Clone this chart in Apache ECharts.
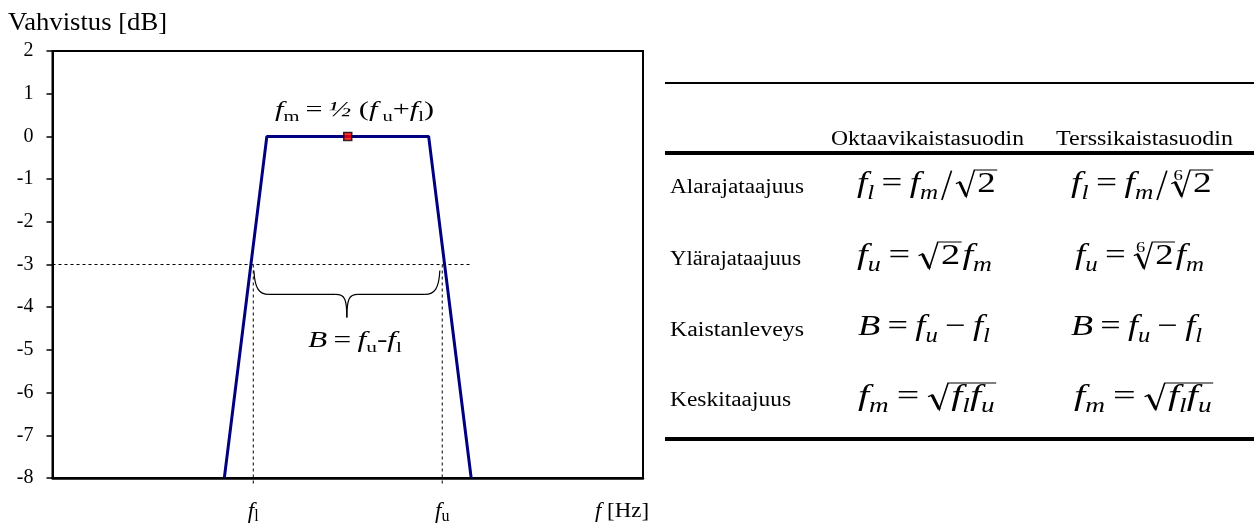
<!DOCTYPE html>
<html>
<head>
<meta charset="utf-8">
<script src="https://cdn.jsdelivr.net/npm/echarts@6/dist/echarts.min.js"></script>
<style>
  html, body { margin: 0; padding: 0; background: #fff; }
  #chart { width: 1254px; height: 525px; }
</style>
</head>
<body>
<div id="chart"></div>
<script>
// 公式记号
const I = t => ({ t: t, it: 1 });            // 斜体
const U = t => ({ t: t });                   // 正体
const SI = t => ({ t: t, it: 1, sub: 1 });   // 斜体下标
const SU = t => ({ t: t, sub: 1 });          // 正体下标
const OP = t => ({ t: t, op: 1 });           // 运算符
const SLASH = { slash: 1 };
const ROOT = (body, n) => ({ root: body, n: n });

// 通带曲线（x 为任意频率刻度 0..100）
const bandX = [29.1, 36.3, 63.7, 70.9];
const bandGain = [-8, 0, 0, -8];
const centerX = 50;
const centerGain = 0;
const cutoffX = [34, 66];
const cutoffSub = ['l', 'u'];
const cutoffGain = -3;
const cutoffLineEnd = 71;
const braceX = [34.1, 65.6];
const braceY = [-3.14, -3.7, -4.24];
const gainMin = -8, gainMax = 2, gainStep = 1;

// 表格内容
const colHeaders = ['Oktaavikaistasuodin', 'Terssikaistasuodin'];
const rowLabels = ['Alarajataajuus', 'Ylärajataajuus', 'Kaistanleveys', 'Keskitaajuus'];
const formulas = [
  [[I('f'), SI('l'), OP('='), I('f'), SI('m'), SLASH, ROOT([U('2')])],
   [I('f'), SI('l'), OP('='), I('f'), SI('m'), SLASH, ROOT([U('2')], '6')]],
  [[I('f'), SI('u'), OP('='), ROOT([U('2')]), I('f'), SI('m')],
   [I('f'), SI('u'), OP('='), ROOT([U('2')], '6'), I('f'), SI('m')]],
  [[I('B'), OP('='), I('f'), SI('u'), OP('\u2212'), I('f'), SI('l')],
   [I('B'), OP('='), I('f'), SI('u'), OP('\u2212'), I('f'), SI('l')]],
  [[I('f'), SI('m'), OP('='), ROOT([I('f'), SI('l'), I('f'), SI('u')])],
   [I('f'), SI('m'), OP('='), ROOT([I('f'), SI('l'), I('f'), SI('u')])]]
];
const centerNote = [I('f'), SU('m'), OP('='), I('\u00bd'), U(' ('), I('f'), SU(' u'), U('+'), I('f'), SU('l'), U(')')];
const bandNote = [I('B'), OP('='), I('f'), SU('u'), U('-'), I('f'), SU('l')];

const FONT = '"Liberation Serif", "Times New Roman", serif';
const ctx = document.createElement('canvas').getContext('2d');

function textW(t, size, it) {
  ctx.font = (it ? 'italic ' : '') + size + 'px ' + FONT;
  return ctx.measureText(t).width;
}

function txt(t, x, yb, size, it) {
  return {
    type: 'text', x: x, y: yb - 0.335 * size, silent: true,
    style: { text: t, font: (it ? 'italic ' : '') + size + 'px ' + FONT, fill: '#000', align: 'left', verticalAlign: 'middle' }
  };
}

function seg(x1, y1, x2, y2, w) {
  return { type: 'line', silent: true, shape: { x1: x1, y1: y1, x2: x2, y2: y2 }, style: { stroke: '#000', lineWidth: w } };
}

// 按记号排版一行公式
function build(tokens, s, x0, yb) {
  const els = [];
  let x = x0;
  tokens.forEach(tk => {
    if (tk.slash) {
      els.push(seg(x + 0.36 * s, yb - 0.78 * s, x + 0.1 * s, yb + 0.2 * s, 0.045 * s));
      x += 0.46 * s;
    } else if (tk.root) {
      const rw = 0.6 * s;
      const inner = build(tk.root, s, x + rw, yb);
      const top = yb - 0.8 * s;
      els.push({
        type: 'polyline', silent: true,
        shape: { points: [[x + 0.02 * s, yb - 0.34 * s], [x + 0.12 * s, yb - 0.4 * s], [x + 0.3 * s, yb + 0.08 * s], [x + 0.52 * s, top], [inner.x + 0.04 * s, top]] },
        style: { stroke: '#000', fill: null, lineWidth: 0.04 * s }
      });
      els.push(seg(x + 0.12 * s, yb - 0.4 * s, x + 0.3 * s, yb + 0.08 * s, 0.08 * s));
      if (tk.n) els.push(txt(tk.n, x + 0.08 * s, yb - 0.44 * s, 0.5 * s, false));
      els.push(...inner.els);
      x = inner.x + 0.06 * s;
    } else {
      const size = tk.sub ? 0.68 * s : s;
      const pad = tk.op ? 0.2 * s : 0;
      x += pad;
      els.push(txt(tk.t, x, tk.sub ? yb + 0.2 * s : yb, size, tk.it));
      x += textW(tk.t, size, tk.it) + pad;
    }
  });
  return { els: els, x: x };
}

function group(tokens, s, left, yb, width, scale) {
  const r = build(tokens, s, 0, yb);
  const sc = width ? width / r.x : (scale || 1);
  return { type: 'group', x: left, y: 0, scaleX: sc, children: r.els };
}

// 表格与注释
const graphics = [];
graphics.push(group([U('Vahvistus [dB]')], 25, 8, 32, 159));
graphics.push(group(centerNote, 22, 275, 118, 159));
graphics.push(group(bandNote, 23, 308, 349, 94));
graphics.push(group([I('f'), U(' [Hz]')], 21, 595, 519, 54));

const tableLeft = 665, tableRight = 1254;
graphics.push(seg(tableLeft, 83, tableRight, 83, 2));
graphics.push(seg(tableLeft, 153, tableRight, 153, 4));
graphics.push(seg(tableLeft, 439, tableRight, 439, 4));

const headerX = [831, 1056];
const headerW = [193, 177];
colHeaders.forEach((h, j) => graphics.push(group([U(h)], 20, headerX[j], 146, headerW[j])));

const rowBase = [194, 266, 337, 407];
const labelW = [134, 131, 134, 121];
const formulaX = [[857, 1071], [857, 1075], [858, 1071], [858, 1074]];
const formulaW = [[141, 143], [135, 129], [132, 131], [139, 140]];
rowLabels.forEach((lab, i) => {
  graphics.push(group([U(lab)], 20, 670, rowBase[i], labelW[i]));
  formulas[i].forEach((f, j) => graphics.push(group(f, 30, formulaX[i][j], rowBase[i], formulaW[i][j])));
});

const chart = echarts.init(document.getElementById('chart'));
const dashed = { color: '#000', width: 1, type: [3, 3] };

const option = {
  animation: false,
  grid: { left: 52.5, right: 611, top: 51, bottom: 47, show: true, borderColor: '#000', borderWidth: 2, backgroundColor: 'transparent' },
  xAxis: {
    type: 'value', min: 0, max: 100,
    axisLine: { show: true, onZero: false, lineStyle: { color: '#000', width: 2.5 } },
    axisTick: { show: false },
    splitLine: { show: false },
    axisLabel: {
      show: true, customValues: cutoffX, margin: 21,
      formatter: v => '{f|f}{s|' + (cutoffSub[cutoffX.indexOf(v)] || '') + '}',
      rich: {
        f: { fontFamily: FONT, fontStyle: 'italic', fontSize: 23, lineHeight: 26, color: '#000' },
        s: { fontFamily: FONT, fontSize: 16, lineHeight: 14, verticalAlign: 'bottom', color: '#000' }
      }
    }
  },
  yAxis: {
    type: 'value', min: gainMin, max: gainMax, interval: gainStep,
    axisLine: { show: true, onZero: false, lineStyle: { color: '#000', width: 2 } },
    axisTick: { show: true, length: 6, lineStyle: { color: '#000', width: 1.5 } },
    splitLine: { show: false },
    axisLabel: { color: '#000', fontFamily: FONT, fontSize: 20, margin: 19 }
  },
  series: [
    {
      type: 'line', data: [[0, cutoffGain], [cutoffLineEnd, cutoffGain]],
      symbol: 'none', lineStyle: dashed, silent: true, z: 1
    },
    ...cutoffX.map(x => ({
      type: 'line', data: [[x, cutoffGain], [x, gainMin - 0.15]],
      symbol: 'none', lineStyle: dashed, silent: true, clip: false, z: 1
    })),
    {
      type: 'custom', silent: true, z: 2,
      data: [[braceX[0], braceX[1], braceY[0], braceY[1], braceY[2]]],
      encode: { x: [0, 1], y: [2, 3, 4] },
      renderItem: (params, api) => {
        const l = api.coord([api.value(0), api.value(2)]);
        const r = api.coord([api.value(1), api.value(2)]);
        const ym = api.coord([api.value(0), api.value(3)])[1];
        const yt = api.coord([api.value(0), api.value(4)])[1];
        const cx = (l[0] + r[0]) / 2;
        const st = { stroke: '#000', fill: null, lineWidth: 1.2 };
        const bz = (x1, y1, c1x, c1y, c2x, c2y, x2, y2) => ({
          type: 'bezierCurve', shape: { x1: x1, y1: y1, cpx1: c1x, cpy1: c1y, cpx2: c2x, cpy2: c2y, x2: x2, y2: y2 }, style: st
        });
        return {
          type: 'group',
          children: [
            bz(l[0], l[1], l[0] + 1, ym - 6, l[0] + 5, ym, l[0] + 15, ym),
            { type: 'line', shape: { x1: l[0] + 15, y1: ym, x2: cx - 11, y2: ym }, style: st },
            bz(cx - 11, ym, cx - 2, ym, cx, ym + 5, cx, yt),
            bz(cx, yt, cx, ym + 5, cx + 2, ym, cx + 11, ym),
            { type: 'line', shape: { x1: cx + 11, y1: ym, x2: r[0] - 15, y2: ym }, style: st },
            bz(r[0] - 15, ym, r[0] - 5, ym, r[0] - 1, ym - 6, r[0], r[1])
          ]
        };
      }
    },
    {
      type: 'line', data: bandX.map((x, i) => [x, bandGain[i]]),
      symbol: 'none', lineStyle: { color: '#000080', width: 3 }, silent: true, z: 3
    },
    {
      type: 'scatter', data: [[centerX, centerGain]],
      symbol: 'rect', symbolSize: 8,
      itemStyle: { color: '#ff0000', borderColor: '#000', borderWidth: 1.5 }, silent: true, z: 5
    }
  ],
  graphic: { elements: graphics }
};
chart.setOption(option);
</script>
</body>
</html>
